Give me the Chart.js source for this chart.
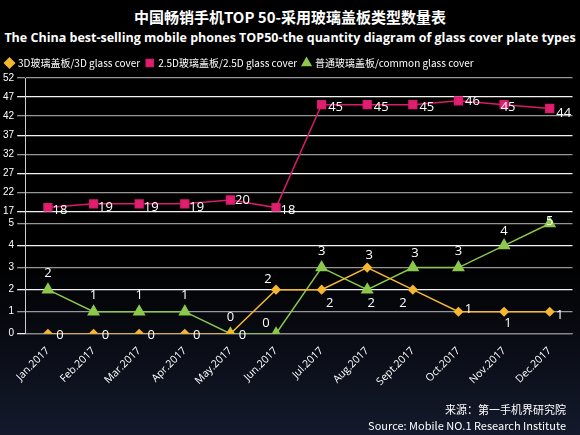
<!DOCTYPE html>
<html><head><meta charset="utf-8">
<script src="https://cdn.jsdelivr.net/npm/chart.js@4"></script>
<style>
body{margin:0;width:580px;height:435px;overflow:hidden;background:linear-gradient(#000 0%,#000 60%,#141a2c 100%);font-family:"Noto Sans CJK SC","Open Sans",sans-serif;color:#fff;position:relative}
#t1{position:absolute;top:6px;width:100%;text-align:center;font-size:15px;font-weight:bold}
#t2{position:absolute;top:29px;width:100%;text-align:center;font-size:12.5px;font-weight:bold;font-family:"Open Sans",sans-serif}
#src{position:absolute;right:14px;top:401px;text-align:right;font-size:11px;line-height:16px}
#wrap{position:absolute;left:0;top:52px;width:580px;height:383px}
</style></head><body>
<div id="t1">中国畅销手机TOP 50-采用玻璃盖板类型数量表</div>
<div id="t2">The China best-selling mobile phones TOP50-the quantity diagram of glass cover plate types</div>
<div id="wrap"><canvas id="c" width="580" height="383"></canvas></div>
<div id="src">来源：第一手机界研究院<br>Source: Mobile NO.1 Research Institute</div>
<script>
const categories=["Jan.2017","Feb.2017","Mar.2017","Apr.2017","May.2017","Jun.2017","Jul.2017","Aug.2017","Sept.2017","Oct.2017","Nov.2017","Dec.2017"];
const glass3D=[0,0,0,0,0,2,2,3,2,1,1,1];
const glass25D=[18,19,19,19,20,18,45,45,45,46,45,44];
const glassCommon=[2,1,1,1,0,0,3,2,3,3,4,5];
const topTicks=[17,22,27,32,37,42,47,52];
const bottomTicks=[0,1,2,3,4,5];
const off3D=[[12,2],[12,2],[12,2],[12,2],[12,2],[-8,-10],[8,14],[2,-12],[-10,14],[10,-2],[4,12],[10,4]];
const offCom=[[0,-16],[0,-16],[0,-16],[0,-16],[0,-16],[-10,-10],[0,-16],[4,14],[2,-14],[0,-16],[0,-14],[0,-2]];
const off25=[[12,3],[12,3],[12,3],[12,3],[12,0],[12,3],[14,3],[14,3],[14,3],[14,0],[4,3],[14,5]];
const labelPlugin={id:'lbl',afterDatasetsDraw(ch){const ctx=ch.ctx;ctx.save();ctx.fillStyle='#fff';ctx.font='13px "Open Sans",sans-serif';ctx.textAlign='center';ctx.textBaseline='middle';
 const offs=[off3D,off25,offCom];
 ch.data.datasets.forEach((ds,i)=>{ch.getDatasetMeta(i).data.forEach((p,j)=>{const o=offs[i][j];ctx.fillText(ds.data[j],p.x+o[0],p.y+o[1]);});});ctx.restore();}};
const grid={color:(c)=>c.index%2?'rgba(200,200,200,0.75)':'rgba(255,255,255,0.95)',lineWidth:1.3};
new Chart(document.getElementById('c'),{type:'line',
 data:{labels:categories,datasets:[
  {label:'3D玻璃盖板/3D glass cover',data:glass3D,borderColor:'#f5b82e',backgroundColor:'#f5b82e',pointStyle:'rectRot',pointRadius:4,borderWidth:1.5,yAxisID:'y'},
  {label:'2.5D玻璃盖板/2.5D glass cover',data:glass25D,borderColor:'#d81b6a',backgroundColor:'#e0206f',pointStyle:'rect',pointRadius:5.5,borderWidth:1.5,yAxisID:'y2'},
  {label:'普通玻璃盖板/common glass cover',data:glassCommon,borderColor:'#8cc84b',backgroundColor:'#8cc84b',pointStyle:'triangle',pointRadius:6,borderWidth:1.5,yAxisID:'y'}]},
 options:{responsive:false,animation:false,
  layout:{padding:{left:0,right:6,bottom:44}},
  plugins:{legend:{align:'start',labels:{color:'#fff',usePointStyle:true,boxWidth:7,boxHeight:7,padding:6,font:{size:10,family:'"Noto Sans CJK SC",sans-serif'}}},tooltip:{enabled:false}},
  scales:{
   x:{offset:true,grid:{display:false},border:{color:'#888'},ticks:{autoSkip:false,color:'#fff',maxRotation:45,minRotation:45,font:{size:10.5,family:'"Open Sans",sans-serif'}}},
   y:{stack:'s',stackWeight:121,min:0,max:5.55,afterBuildTicks:(a)=>{a.ticks=bottomTicks.map(v=>({value:v}));},grid:grid,border:{color:'#ccc'},ticks:{autoSkip:false,color:'#fff',font:{size:10}}},
   y2:{stack:'s',stackWeight:132,min:17,max:52,afterBuildTicks:(a)=>{a.ticks=topTicks.map(v=>({value:v}));},grid:grid,border:{color:'#ccc'},ticks:{autoSkip:false,color:'#fff',font:{size:10}}}
  }},plugins:[labelPlugin]});
</script></body></html>
